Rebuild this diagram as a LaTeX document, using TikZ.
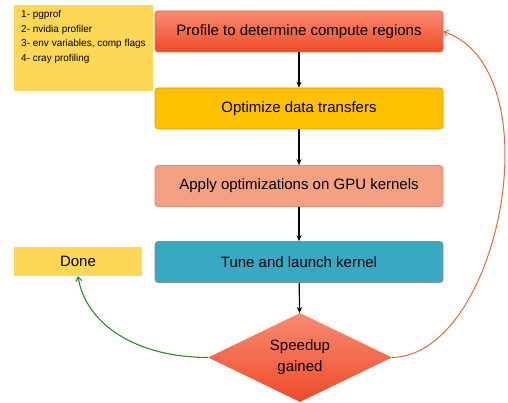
\documentclass[tikz,border=0pt]{standalone}
\usepackage{fontspec}
\setmainfont{Liberation Sans}
\usetikzlibrary{shapes.geometric,arrows.meta}
\definecolor{noteyellow}{HTML}{FED756}
\definecolor{redtop}{HTML}{F98B72}
\definecolor{redbot}{HTML}{EE4B29}
\definecolor{redline}{HTML}{E5603E}
\definecolor{gold}{HTML}{FFC000}
\definecolor{goldline}{HTML}{E39A10}
\definecolor{salmon}{HTML}{F4A083}
\definecolor{salmonline}{HTML}{E58C6E}
\definecolor{teal}{HTML}{37A9C3}
\definecolor{tealline}{HTML}{8A8F8C}
\definecolor{loopred}{HTML}{E46A3C}
\definecolor{donegreen}{HTML}{2E8B2E}
\tikzset{
  stepbox/.style={rectangle, rounded corners=3pt, minimum width=288pt,
    minimum height=41pt, inner sep=0pt, font=\fontsize{15}{17}\selectfont,
    line width=0.6pt},
  flow/.style={-{Stealth[length=6pt,width=5pt]}, line width=1.2pt, black},
  notebox/.style={rectangle, fill=noteyellow, inner sep=0pt},
}
\begin{document}
\begin{tikzpicture}[x=1pt,y=-1pt]
  \useasboundingbox (0,0) rectangle (508,403);
  % tool list
  \node[notebox, minimum width=139pt, minimum height=86pt, anchor=north west]
    (tools) at (14,5) {};
  \node[anchor=north west, inner sep=0pt, align=left,
    font=\fontsize{10}{14.5}\selectfont] (toollist) at (21,10.5)
    {1- pgprof\\2- nvidia profiler\\3- env variables, comp flags\\4- cray profiling};
  % main steps
  \node[stepbox, top color=redtop, bottom color=redbot, draw=redline]
    (profile) at (299,31.5) {Profile to determine compute regions};
  \node[stepbox, fill=gold, draw=goldline]
    (transfers) at (299,108.5) {Optimize data transfers};
  \node[stepbox, fill=salmon, draw=salmonline]
    (kernels) at (299,186) {Apply optimizations on GPU kernels};
  \node[stepbox, fill=teal, draw=tealline]
    (tune) at (299,262) {Tune and launch kernel};
  \node[diamond, minimum width=184pt, minimum height=89pt, inner sep=0pt,
    aspect=2.07, top color=redtop, bottom color=redbot, draw=none,
    align=center, font=\fontsize{15}{21}\selectfont]
    (speedup) at (300,357.5) {Speedup\\gained};
  \node[notebox, minimum width=128pt, minimum height=29pt,
    font=\fontsize{15}{17}\selectfont] (done) at (78,261.5) {Done};
  % connectors
  \draw[flow] (profile) -- (transfers);
  \draw[flow] (transfers) -- (kernels);
  \draw[flow] (kernels) -- (tune);
  \draw[flow] (tune) -- (speedup);
  \draw[-{Straight Barb[length=4pt,width=6pt]}, line width=1.1pt, donegreen]
    (speedup.west) .. controls (130,357) and (85,320) .. (done.south);
  \draw[-{Straight Barb[length=4pt,width=6pt]}, line width=1pt, loopred]
    (speedup.east) .. controls (500,355) and (555,70) .. (profile.east);
\end{tikzpicture}
\end{document}
